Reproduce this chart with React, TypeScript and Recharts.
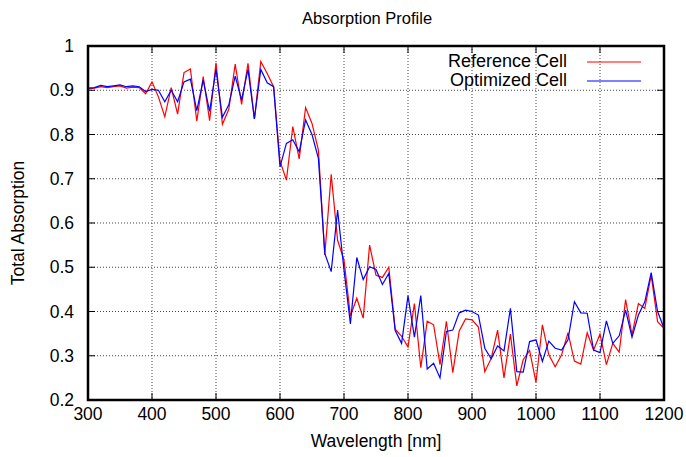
import React from 'react';
import { LineChart, Line, XAxis, YAxis, CartesianGrid, Legend } from 'recharts';

// wavelength samples (nm)
const wavelengths = [
  300, 310, 320, 330, 340, 350, 360, 370, 380, 390,
  400, 410, 420, 430, 440, 450, 460, 470, 480, 490,
  500, 510, 520, 530, 540, 550, 560, 570, 580, 590,
  600, 610, 620, 630, 640, 650, 660, 670, 680, 690,
  700, 710, 720, 730, 740, 750, 760, 770, 780, 790,
  800, 810, 820, 830, 840, 850, 860, 870, 880, 890,
  900, 910, 920, 930, 940, 950, 960, 970, 980, 990,
  1000, 1010, 1020, 1030, 1040, 1050, 1060, 1070, 1080, 1090,
  1100, 1110, 1120, 1130, 1140, 1150, 1160, 1170, 1180, 1190,
  1200,
];

const referenceCell = [
  0.903, 0.905, 0.908, 0.906, 0.908, 0.91, 0.905, 0.907, 0.906, 0.892,
  0.919, 0.885, 0.84, 0.906, 0.846, 0.94, 0.948, 0.83, 0.931, 0.831,
  0.962, 0.823, 0.857, 0.959, 0.868, 0.961, 0.835, 0.965, 0.938, 0.908,
  0.74, 0.697, 0.818, 0.745, 0.861, 0.825, 0.765, 0.528, 0.71, 0.561,
  0.516, 0.39, 0.43, 0.385, 0.55, 0.482, 0.477, 0.5, 0.36, 0.344,
  0.32, 0.418, 0.273, 0.378, 0.37, 0.28, 0.378, 0.262, 0.356, 0.383,
  0.381, 0.365, 0.264, 0.294, 0.358, 0.25, 0.349, 0.232, 0.291, 0.312,
  0.24, 0.37, 0.302, 0.275, 0.302, 0.352, 0.288, 0.281, 0.352, 0.313,
  0.349, 0.28, 0.328, 0.308, 0.427, 0.347, 0.418, 0.407, 0.482, 0.377,
  0.362,
];

const optimizedCell = [
  0.905, 0.906, 0.911, 0.908, 0.91, 0.912, 0.908, 0.91, 0.908, 0.897,
  0.902, 0.9, 0.874, 0.9, 0.874, 0.919, 0.925, 0.854, 0.923, 0.852,
  0.947, 0.839, 0.867, 0.932, 0.878, 0.947, 0.835, 0.947, 0.917, 0.908,
  0.727, 0.78, 0.788, 0.761, 0.833, 0.8, 0.746, 0.531, 0.49, 0.629,
  0.494, 0.372, 0.522, 0.472, 0.501, 0.495, 0.461, 0.486, 0.357, 0.328,
  0.436, 0.342, 0.436, 0.27, 0.283, 0.25, 0.355, 0.358, 0.397, 0.403,
  0.4, 0.392, 0.317, 0.293, 0.322, 0.311, 0.407, 0.264, 0.263, 0.332,
  0.336, 0.287, 0.333, 0.317, 0.313, 0.336, 0.422, 0.397, 0.396, 0.313,
  0.307, 0.379, 0.328, 0.345, 0.403, 0.342, 0.392, 0.422, 0.488, 0.4,
  0.362,
];

const xTicks = [300, 400, 500, 600, 700, 800, 900, 1000, 1100, 1200];
const yTicks = [0.2, 0.3, 0.4, 0.5, 0.6, 0.7, 0.8, 0.9, 1];

const seriesNames = ['Reference Cell', 'Optimized Cell'];
const seriesColors = ['#ff0000', '#0000ff'];

const data = wavelengths.map((wl, i) => ({
  wl,
  reference: referenceCell[i],
  optimized: optimizedCell[i],
}));

const FONT = '"Liberation Sans", Arial, Helvetica, sans-serif';
const INK = '#000';

// plot box: gnuplot style frame with inward ticks on all four sides
const W = 686;
const H = 457;
const M = { top: 46, right: 22, bottom: 0, left: 0 };
const Y_AXIS_W = 88;
const X_AXIS_H = 57;
const PLOT_TOP = M.top;
const PLOT_BOTTOM = H - X_AXIS_H;
const PLOT_LEFT = Y_AXIS_W;
const PLOT_RIGHT = W - M.right;
const TICK = 7;
const FRAME = 2.5;

const XTick = ({ x, y, payload }: any) => (
  <g>
    <rect x={x - 0.5} y={PLOT_BOTTOM - TICK} width={1} height={TICK} fill={INK} />
    <rect x={x - 0.5} y={PLOT_TOP} width={1} height={TICK} fill={INK} />
    <text x={x} y={y} textAnchor="middle" fontSize={17.5} fill="#000">
      {payload.value}
    </text>
  </g>
);

const YTick = ({ x, y, payload }: any) => (
  <g>
    <rect x={PLOT_LEFT} y={y - 0.5} width={TICK} height={1} fill={INK} />
    <rect x={PLOT_RIGHT - TICK} y={y - 0.5} width={TICK} height={1} fill={INK} />
    <text x={x} y={y} dy={6.2} textAnchor="end" fontSize={17.5} fill="#000">
      {String(payload.value)}
    </text>
  </g>
);

const Titles = () => (
  <g fill="#000">
    <rect
      x={PLOT_LEFT}
      y={PLOT_TOP}
      width={PLOT_RIGHT - PLOT_LEFT}
      height={PLOT_BOTTOM - PLOT_TOP}
      fill="none"
      stroke={INK}
      strokeWidth={FRAME}
    />
    <text x={367} y={24} textAnchor="middle" fontSize={16.5}>
      Absorption Profile
    </text>
    <text
      x={18}
      y={223}
      transform="rotate(-90 18 223)"
      textAnchor="middle"
      dominantBaseline="central"
      fontSize={17.5}
    >
      Total Absorption
    </text>
  </g>
);

const KeyBox = () => (
  <div style={{ fontFamily: FONT, fontSize: 18, color: '#000' }}>
    {seriesNames.map((name, i) => (
      <div
        key={name}
        style={{ display: 'flex', justifyContent: 'flex-end', alignItems: 'center', height: 19 }}
      >
        <span style={{ lineHeight: '19px' }}>{name}</span>
        <svg width={54} height={4} style={{ marginLeft: 20 }}>
          <line x1={0} y1={2} x2={54} y2={2} stroke={seriesColors[i]} strokeWidth={1.2} />
        </svg>
      </div>
    ))}
  </div>
);

export default function App() {
  return (
    <div style={{ position: 'absolute', left: 0, top: 0, width: W, height: H, background: '#fff' }}>
      <LineChart width={W} height={H} data={data} margin={M} style={{ fontFamily: FONT }}>
        <CartesianGrid stroke="#444" strokeDasharray="1 2" strokeWidth={1} />
        <XAxis
          dataKey="wl"
          type="number"
          domain={[300, 1200]}
          ticks={xTicks}
          height={X_AXIS_H}
          tick={<XTick />}
          tickSize={0}
          tickMargin={20}
          tickLine={false}
          axisLine={false}
          label={{ value: 'Wavelength [nm]', position: 'insideBottom', offset: 10, fontSize: 17.5, fill: '#000' }}
        />
        <YAxis
          type="number"
          domain={[0.2, 1]}
          ticks={yTicks}
          width={Y_AXIS_W}
          tick={<YTick />}
          tickSize={0}
          tickMargin={14}
          tickLine={false}
          axisLine={false}
          label={{ content: <Titles /> }}
        />
        <Legend
          layout="vertical"
          align="center"
          verticalAlign="middle"
          content={<KeyBox />}
          wrapperStyle={{ top: 52, left: 441, width: 200 }}
        />
        <Line
          type="linear"
          dataKey="reference"
          name={seriesNames[0]}
          stroke={seriesColors[0]}
          strokeWidth={1.2}
          dot={false}
          isAnimationActive={false}
        />
        <Line
          type="linear"
          dataKey="optimized"
          name={seriesNames[1]}
          stroke={seriesColors[1]}
          strokeWidth={1.2}
          dot={false}
          isAnimationActive={false}
        />
      </LineChart>
    </div>
  );
}
